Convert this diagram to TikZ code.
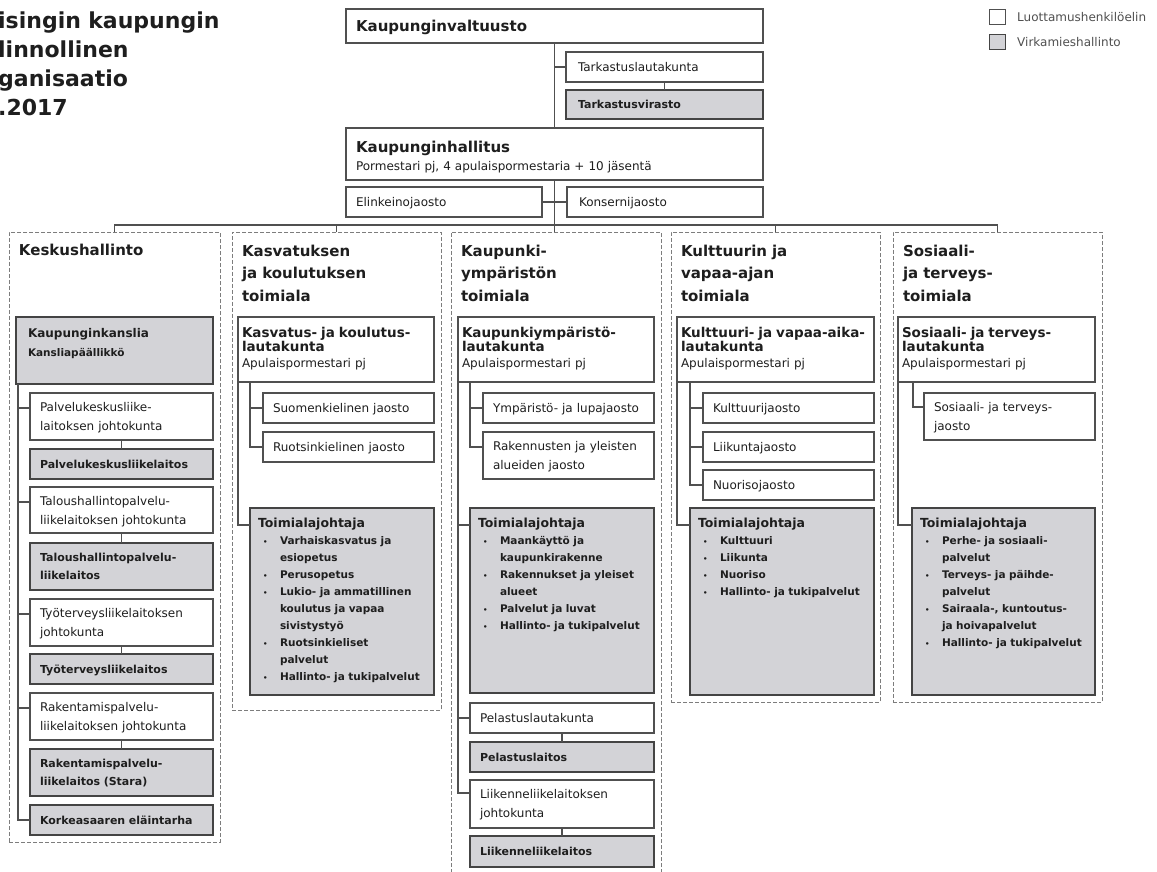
\documentclass[tikz,border=0pt]{standalone}
\usepackage{fontspec}
\setmainfont{DejaVu Sans}
\usetikzlibrary{positioning}

\definecolor{viiva}{RGB}{80,80,80}
\definecolor{virkaharmaa}{RGB}{211,211,215}
\definecolor{katko}{RGB}{125,125,125}
\definecolor{teksti}{RGB}{30,30,30}

\newcommand\otsikko{\fontsize{22}{29}\selectfont\bfseries}
\newcommand\alaotsikko{\fontsize{15}{22.5}\selectfont\bfseries}
\newcommand\lautaotsikko{\fontsize{13.5}{14}\selectfont\bfseries}
\newcommand\perus{\fontsize{12}{19}\selectfont}
\newcommand\virkateksti{\fontsize{11}{18}\selectfont\bfseries}
\newcommand\listateksti{\fontsize{10.5}{17}\selectfont\bfseries}
\newcommand\pallo{\hspace*{5pt}\makebox[17pt][l]{\fontsize{7}{7}\selectfont\textbullet}}
\newcommand\sisennys{\hspace*{22pt}}

\tikzset{
  laatikko/.style={anchor=north west, align=left, inner ysep=0pt, outer sep=0pt,
    inner xsep=10pt, text=teksti},
  luottamus/.style={laatikko, draw=viiva, fill=white, line width=1.3pt, font=\perus},
  virka/.style={laatikko, draw=viiva!85!black, fill=virkaharmaa, line width=1.7pt, font=\virkateksti},
  toimiala/.style={laatikko, draw=katko, dash pattern=on 4pt off 2pt, line width=0.9pt, font=\alaotsikko},
  lauta/.style={luottamus, inner xsep=4pt, text height=20.5pt, text depth=44.5pt,
    font=\fontsize{12}{16}\selectfont},
  johtaja/.style={virka, inner xsep=8pt, text height=19.5pt, font=\listateksti},
  yksi/.style={text height=19.5pt, text depth=10.5pt},
  kaksi/.style={text height=18.5pt, text depth=28.5pt},
  yhteys/.style={draw=viiva, line width=1.2pt},
  selite/.style={anchor=west, inner sep=0pt, text=viiva, font=\perus}
}

\begin{document}
\begin{tikzpicture}[x=1pt,y=-1pt]
\fill[white] (0,0) rectangle (1157,872);
\useasboundingbox (0,0) rectangle (1157,872);

% otsikko ja selite
\node[anchor=north west, inner sep=0pt, text width=300pt, align=left, text height=28pt,
  font=\otsikko, text=teksti] (otsikko) at (-2,0)
  {isingin kaupungin\\linnollinen\\ganisaatio\\.2017};
\node[luottamus, minimum width=16pt, minimum height=15pt, inner sep=0pt, line width=1pt] (selluot) at (989,10) {};
\node[selite, right=12pt of selluot] (selluotteksti) {Luottamushenkilöelin};
\node[virka, minimum width=16pt, minimum height=15pt, inner sep=0pt, line width=1pt] (selvirka) at (989,35) {};
\node[selite, right=12pt of selvirka] (selvirkateksti) {Virkamieshallinto};

% ylin taso
\node[luottamus, text width=397pt, text height=23pt, text depth=11pt, font=\alaotsikko] (valtuusto) at (346,9) {Kaupunginvaltuusto};
\node[luottamus, yksi, inner xsep=12pt, text width=173pt] (tarklauta) at (566,52) {Tarkastuslautakunta};
\node[virka, inner xsep=12pt, text width=173pt, text height=19pt, text depth=10pt] (tarkvirasto) at (566,90) {Tarkastusvirasto};
\node[luottamus, text width=397pt, text height=25pt, text depth=27pt, font=\fontsize{12}{18}\selectfont] (hallitus) at (346,128)
  {{\alaotsikko Kaupunginhallitus\\}Pormestari pj, 4 apulaispormestaria + 10 jäsentä};
\node[luottamus, yksi, text width=176pt] (elinkeino) at (346,187) {Elinkeinojaosto};
\node[luottamus, yksi, inner xsep=12pt, text width=172pt] (konserni) at (567,187) {Konsernijaosto};

% toimialat
\node[toimiala, text width=191pt, text height=23.5pt, text depth=586.5pt] (keskus) at (9,232) {Keskushallinto};
\node[toimiala, text width=189pt, text height=24pt, text depth=454pt] (kasvatus) at (232,232) {Kasvatuksen\\ja koulutuksen\\toimiala};
\node[toimiala, text width=190pt, text height=24pt, text depth=629pt] (kaupunki) at (451,232) {Kaupunki-\\ympäristön\\toimiala};
\node[toimiala, text width=189pt, text height=24pt, text depth=446pt] (kulttuuri) at (671,232) {Kulttuurin ja\\vapaa-ajan\\toimiala};
\node[toimiala, text width=189pt, text height=24pt, text depth=446pt] (sosiaali) at (893,232) {Sosiaali-\\ja terveys-\\toimiala};

% keskushallinto
\node[virka, inner xsep=12pt, text width=173pt, text height=20pt, text depth=47pt,
  font=\fontsize{10.5}{19}\selectfont\bfseries] (kanslia) at (16,317)
  {{\fontsize{12}{16}\selectfont Kaupunginkanslia\\}Kansliapäällikkö};
\node[luottamus, kaksi, text width=163pt] (pkjohto) at (30,393) {Palvelukeskusliike-\\laitoksen johtokunta};
\node[virka, yksi, text width=163pt] (pkl) at (30,449) {Palvelukeskusliikelaitos};
\node[luottamus, text height=18.5pt, text depth=27.5pt, text width=163pt] (tjohto) at (30,487) {Taloushallintopalvelu-\\liikelaitoksen johtokunta};
\node[virka, kaksi, text width=163pt] (tl) at (30,543) {Taloushallintopalvelu-\\liikelaitos};
\node[luottamus, kaksi, text width=163pt] (tyjohto) at (30,599) {Työterveysliikelaitoksen\\johtokunta};
\node[virka, yksi, text width=163pt] (tyl) at (30,654) {Työterveysliikelaitos};
\node[luottamus, kaksi, text width=163pt] (rjohto) at (30,693) {Rakentamispalvelu-\\liikelaitoksen johtokunta};
\node[virka, kaksi, text width=163pt] (rl) at (30,749) {Rakentamispalvelu-\\liikelaitos (Stara)};
\node[virka, yksi, text width=163pt] (korkeasaari) at (30,805) {Korkeasaaren eläintarha};

% kasvatus ja koulutus
\node[lauta, text width=188pt] (kasvlauta) at (238,317) {{\lautaotsikko Kasvatus- ja koulutus-\\lautakunta\\}Apulaispormestari pj};
\node[luottamus, yksi, text width=151pt] (suomi) at (263,393) {Suomenkielinen jaosto};
\node[luottamus, yksi, text width=151pt] (ruotsi) at (263,432) {Ruotsinkielinen jaosto};
\node[johtaja, text width=168pt, text depth=167.5pt] (kasvjohtaja) at (250,508)
  {{\fontsize{12.5}{17}\selectfont Toimialajohtaja\\}
   \pallo Varhaiskasvatus ja\\
   \sisennys esiopetus\\
   \pallo Perusopetus\\
   \pallo Lukio- ja ammatillinen\\
   \sisennys koulutus ja vapaa\\
   \sisennys sivistystyö\\
   \pallo Ruotsinkieliset\\
   \sisennys palvelut\\
   \pallo Hallinto- ja tukipalvelut};

% kaupunkiympäristö
\node[lauta, text width=188pt] (kaupunkilauta) at (458,317) {{\lautaotsikko Kaupunkiympäristö-\\lautakunta\\}Apulaispormestari pj};
\node[luottamus, yksi, text width=151pt] (ymparisto) at (483,393) {Ympäristö- ja lupajaosto};
\node[luottamus, kaksi, text width=151pt] (rakennus) at (483,432) {Rakennusten ja yleisten\\alueiden jaosto};
\node[johtaja, text width=168pt, text depth=165.5pt] (kaupunkijohtaja) at (470,508)
  {{\fontsize{12.5}{17}\selectfont Toimialajohtaja\\}
   \pallo Maankäyttö ja\\
   \sisennys kaupunkirakenne\\
   \pallo Rakennukset ja yleiset\\
   \sisennys alueet\\
   \pallo Palvelut ja luvat\\
   \pallo Hallinto- ja tukipalvelut};
\node[luottamus, yksi, text width=164pt] (pelastuslauta) at (470,703) {Pelastuslautakunta};
\node[virka, yksi, text width=164pt] (pelastuslaitos) at (470,742) {Pelastuslaitos};
\node[luottamus, text height=18.5pt, text depth=29.5pt, text width=164pt] (liikennejohto) at (470,780) {Liikenneliikelaitoksen\\johtokunta};
\node[virka, text height=19.5pt, text depth=11.5pt, text width=164pt] (liikennelaitos) at (470,836) {Liikenneliikelaitos};

% kulttuuri ja vapaa-aika
\node[lauta, text width=189pt] (kulttuurilauta) at (677,317) {{\lautaotsikko Kulttuuri- ja vapaa-aika-\\lautakunta\\}Apulaispormestari pj};
\node[luottamus, yksi, text width=151pt] (kulttuurijaosto) at (703,393) {Kulttuurijaosto};
\node[luottamus, yksi, text width=151pt] (liikuntajaosto) at (703,432) {Liikuntajaosto};
\node[luottamus, yksi, text width=151pt] (nuorisojaosto) at (703,470) {Nuorisojaosto};
\node[johtaja, text width=168pt, text depth=167.5pt] (kulttuurijohtaja) at (690,508)
  {{\fontsize{12.5}{17}\selectfont Toimialajohtaja\\}
   \pallo Kulttuuri\\
   \pallo Liikunta\\
   \pallo Nuoriso\\
   \pallo Hallinto- ja tukipalvelut};

% sosiaali ja terveys
\node[lauta, text width=189pt] (sotelauta) at (898,317) {{\lautaotsikko Sosiaali- ja terveys-\\lautakunta\\}Apulaispormestari pj};
\node[luottamus, kaksi, text width=151pt] (sotejaosto) at (924,393) {Sosiaali- ja terveys-\\jaosto};
\node[johtaja, text width=167pt, text depth=167.5pt] (sotejohtaja) at (912,508)
  {{\fontsize{12.5}{17}\selectfont Toimialajohtaja\\}
   \pallo Perhe- ja sosiaali-\\
   \sisennys palvelut\\
   \pallo Terveys- ja päihde-\\
   \sisennys palvelut\\
   \pallo Sairaala-, kuntoutus-\\
   \sisennys ja hoivapalvelut\\
   \pallo Hallinto- ja tukipalvelut};

% yhteydet
\draw[yhteys] (valtuusto.south) -- (hallitus.north);
\draw[yhteys] (valtuusto.south |- tarklauta.west) -- (tarklauta.west);
\draw[yhteys] (tarklauta.south) -- (tarkvirasto.north);
\draw[yhteys] (elinkeino.east) -- (konserni.west);
\draw[yhteys] (hallitus.south) -- (hallitus.south |- kaupunki.north);
\coordinate (vayla) at (555,225);
\draw[yhteys] (keskus.north) -- (keskus.north |- vayla) -- (sosiaali.north |- vayla) -- (sosiaali.north);
\foreach \ala in {kasvatus,kulttuuri}
  \draw[yhteys] (\ala.north) -- (\ala.north |- vayla);

\foreach \n in {pkjohto,tjohto,tyjohto,rjohto,korkeasaari}
  \draw[yhteys] ([yshift=-15pt]\n.north west) -| ([xshift=2pt]kanslia.south west);
\foreach \a/\b in {pkjohto/pkl,tjohto/tl,tyjohto/tyl,rjohto/rl}
  \draw[yhteys] (\a.south) -- (\b.north);

\foreach \n in {suomi,ruotsi}
  \draw[yhteys] ([yshift=-15pt]\n.north west) -| ([xshift=12pt]kasvlauta.south west);
\draw[yhteys] ([yshift=-17pt]kasvjohtaja.north west) -| (kasvlauta.south west);

\foreach \n in {ymparisto,rakennus}
  \draw[yhteys] ([yshift=-15pt]\n.north west) -| ([xshift=12pt]kaupunkilauta.south west);
\foreach \n/\d in {kaupunkijohtaja/17pt,pelastuslauta/15pt,liikennejohto/13pt}
  \draw[yhteys] ([yshift=-\d]\n.north west) -| (kaupunkilauta.south west);
\draw[yhteys] (pelastuslauta.south) -- (pelastuslaitos.north);
\draw[yhteys] (liikennejohto.south) -- (liikennelaitos.north);

\foreach \n in {kulttuurijaosto,liikuntajaosto,nuorisojaosto}
  \draw[yhteys] ([yshift=-15pt]\n.north west) -| ([xshift=13pt]kulttuurilauta.south west);
\draw[yhteys] ([yshift=-17pt]kulttuurijohtaja.north west) -| (kulttuurilauta.south west);

\draw[yhteys] ([yshift=-14pt]sotejaosto.north west) -| ([xshift=15pt]sotelauta.south west);
\draw[yhteys] ([yshift=-17pt]sotejohtaja.north west) -| (sotelauta.south west);
\end{tikzpicture}
\end{document}
